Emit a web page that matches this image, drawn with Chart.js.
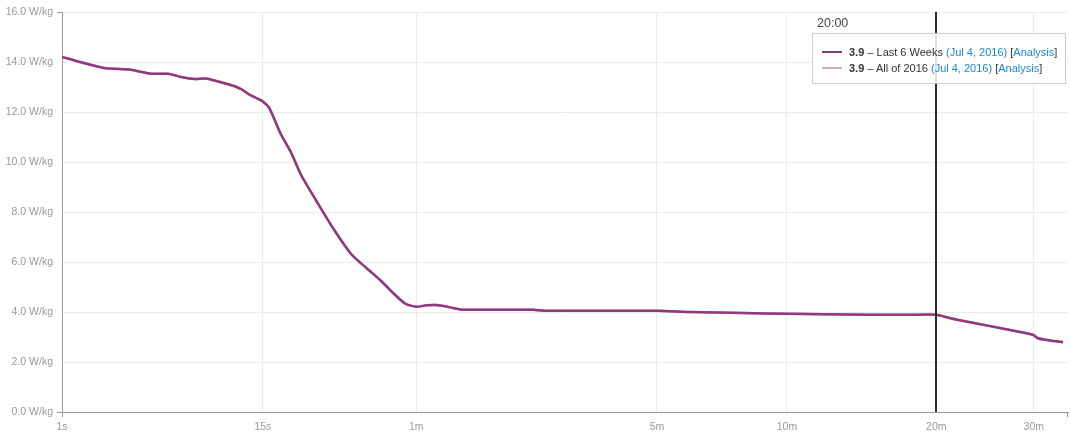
<!DOCTYPE html>
<html>
<head>
<meta charset="utf-8">
<script src="https://cdn.jsdelivr.net/npm/chart.js@4/dist/chart.umd.min.js"></script>
<style>
  body{margin:0;background:#fff;font-family:"Liberation Sans",Arial,sans-serif;}
  .wrap{position:relative;width:1070px;height:446px;}
  .hover-time{position:absolute;left:817px;top:16px;font-size:12.5px;color:#444;}
  .hover-box{position:absolute;left:812px;top:33px;width:254px;height:51px;box-sizing:border-box;border:1px solid #ccc;background:rgba(255,255,255,.85);font-size:11px;color:#333;}
  .hover-box .row{position:absolute;left:9px;white-space:nowrap;line-height:14px;}
  .hover-box .sw{display:inline-block;width:20px;height:2px;vertical-align:middle;margin-right:7px;position:relative;top:-1px;}
  .hover-box a{color:#1a8ad4;text-decoration:none;}
</style>
</head>
<body>
<div class="wrap">
  <canvas id="curve" width="1070" height="446"></canvas>
  <div class="hover-time" id="hover-time"></div>
  <div class="hover-box" id="hover-box"></div>
</div>
<script>
// durations in seconds, best average W/kg for each
const durations = [1,2,3,4,5,6,7,8,9,10,11,12,13,14,15,16,17,18,20,22,25,30,35,40,45,50,55,60,65,70,75,80,85,90,120,140,150,180,240,300,360,420,480,600,720,900,1080,1200,1260,1320,1440,1560,1680,1740,1800,1830,1920,2020];
const lastSixWeeks = [14.2,13.76,13.69,13.53,13.53,13.39,13.32,13.34,13.24,13.14,13.04,12.9,12.7,12.56,12.42,12.17,11.65,11.13,10.36,9.48,8.57,7.28,6.3,5.74,5.25,4.74,4.33,4.21,4.27,4.28,4.23,4.15,4.09,4.09,4.09,4.09,4.05,4.05,4.05,4.05,4.0,3.98,3.96,3.93,3.91,3.89,3.89,3.89,3.78,3.68,3.52,3.37,3.23,3.16,3.07,2.95,2.86,2.79];
const allOf2016 = [14.2,13.76,13.69,13.53,13.53,13.39,13.32,13.34,13.24,13.14,13.04,12.9,12.7,12.56,12.42,12.17,11.65,11.13,10.36,9.48,8.57,7.28,6.3,5.74,5.25,4.74,4.33,4.21,4.27,4.28,4.23,4.15,4.09,4.09,4.09,4.09,4.05,4.05,4.05,4.05,4.0,3.98,3.96,3.93,3.91,3.89,3.89,3.89,3.78,3.68,3.52,3.37,3.23,3.16,3.07,2.95,2.86,2.79];
const xTicks = [1,15,60,300,600,1200,1800];
const xMaxSec = 2060;
const yTicks = [0,2,4,6,8,10,12,14,16];
const hoverAt = 1200;
const legendRows = [
  {value:3.9, label:'Last 6 Weeks', date:'Jul 4, 2016', color:'#8f3a7f'},
  {value:3.9, label:'All of 2016', date:'Jul 4, 2016', color:'#d5a9cb'}
];

// the duration axis is linear in t^0.2
const EXP = 0.2;
const fx = s => Math.pow(s, EXP);
const fsec = v => Math.round(Math.pow(v, 1/EXP));
const fmtDur = s => s < 60 ? `${s}s` : `${s/60}m`;
const pts = vals => durations.map((d,i)=>({x:fx(d), y:vals[i]}));

function q(id){ return document.getElementById(id); }

const grey = '#999';
const font = {family:'"Liberation Sans", Arial, sans-serif', size:10.5};

const hoverLine = {
  id:'hoverLine',
  afterDatasetsDraw(chart){
    const {ctx, chartArea:a, scales:{x}} = chart;
    const px = Math.round(x.getPixelForValue(fx(hoverAt)));
    ctx.save();
    ctx.strokeStyle = '#2b2b2b';
    ctx.lineWidth = 2;
    ctx.beginPath(); ctx.moveTo(px, a.top); ctx.lineTo(px, a.bottom); ctx.stroke();
    ctx.restore();
  },
  afterDraw(chart){
    // little end caps on the axis lines
    const {ctx, chartArea:a} = chart;
    ctx.save();
    ctx.strokeStyle = grey; ctx.lineWidth = 1;
    ctx.beginPath();
    ctx.moveTo(a.left-5, a.top+.5); ctx.lineTo(a.left, a.top+.5);
    ctx.moveTo(a.left-5, a.bottom+.5); ctx.lineTo(a.left, a.bottom+.5);
    ctx.moveTo(a.left+.5, a.bottom); ctx.lineTo(a.left+.5, a.bottom+5);
    ctx.moveTo(a.right-.5, a.bottom); ctx.lineTo(a.right-.5, a.bottom+5);
    ctx.stroke();
    ctx.restore();
  }
};

new Chart(q('curve'), {
  type:'line',
  data:{datasets:[
    {label:'All of 2016', data:pts(allOf2016), borderColor:legendRows[1].color, borderWidth:2.5, pointRadius:0, tension:0.2, order:2},
    {label:'Last 6 Weeks', data:pts(lastSixWeeks), borderColor:legendRows[0].color, borderWidth:2.5, pointRadius:0, tension:0.2, order:1}
  ]},
  options:{
    responsive:false, animation:false, events:[],
    layout:{padding:{top:12, right:2, left:0, bottom:0}},
    plugins:{legend:{display:false}, tooltip:{enabled:false}},
    scales:{
      x:{
        type:'linear', min:1, max:fx(xMaxSec),
        afterBuildTicks: s => { s.ticks = xTicks.map(t=>({value:fx(t)})); },
        afterFit: s => { s.height = 34; },
        ticks:{color:grey, font, padding:9, callback: v => fmtDur(fsec(v))},
        grid:{color:'#ececec', drawTicks:false},
        border:{color:grey}
      },
      y:{
        min:0, max:16,
        afterBuildTicks: s => { s.ticks = yTicks.map(v=>({value:v})); },
        afterFit: s => { s.width = 62; },
        // invisible tick marks push the labels off the axis without padding the top
        ticks:{color:grey, font, padding:2, callback: v => `${v.toFixed(1)} W/kg`},
        grid:{color:'#ececec', drawTicks:true, tickLength:7, tickColor:'rgba(0,0,0,0)'},
        border:{color:grey}
      }
    }
  },
  plugins:[hoverLine]
});

const mm = Math.floor(hoverAt/60), ss = hoverAt%60;
q('hover-time').textContent = `${mm}:${String(ss).padStart(2,'0')}`;
q('hover-box').innerHTML = legendRows.map((r,i)=>
  `<div class="row" style="top:${11+i*16}px"><span class="sw" style="background:${r.color}"></span><b>${r.value.toFixed(1)}</b> – ${r.label} <a href="#">(${r.date})</a> [<a href="#">Analysis</a>]</div>`
).join('');
</script>
</body>
</html>
